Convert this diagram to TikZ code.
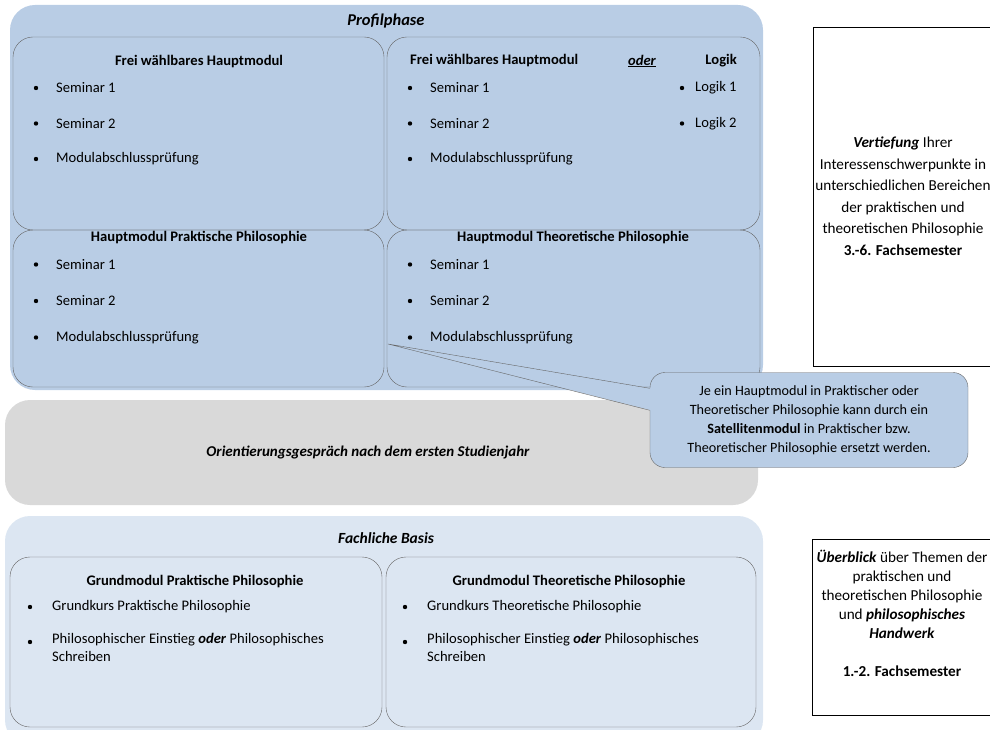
\documentclass[tikz,border=0pt]{standalone}
\usepackage{fontspec}
\setmainfont{Carlito}
\usetikzlibrary{calc}
\definecolor{profilblau}{HTML}{B9CDE5}
\definecolor{basisblau}{HTML}{DCE6F2}
\definecolor{orientgrau}{HTML}{D9D9D9}

\begin{document}
\begin{tikzpicture}[x=1pt, y=-1pt,
	phase/.style={rounded corners=25pt},
	modul/.style={draw=black!60, line width=0.4pt, rounded corners=20pt},
	titel/.style={font=\fontsize{15.5}{18}\selectfont\bfseries\itshape},
	kopf/.style={font=\fontsize{14.6}{17}\selectfont\bfseries},
	eintrag/.style={anchor=west, inner sep=0pt, font=\fontsize{14.6}{17}\selectfont},
	info/.style={align=center, inner sep=0pt}]
	\useasboundingbox (0, 0) rectangle (990, 730);

	% Profilphase
	\fill[profilblau, phase] (10, 5) rectangle (763, 390);
	\node[titel, font=\fontsize{16.5}{18}\selectfont\bfseries\itshape] (profil) at (386, 21) {Profilphase};
	\draw[modul] (13, 37) rectangle (384, 230);
	\draw[modul] (387, 37) rectangle (760, 230);
	\draw[modul] (13, 230) rectangle (384, 387);
	\draw[modul] (387, 230) rectangle (760, 387);

	\node[kopf] (fwa) at (199, 62) {Frei wählbares Hauptmodul};
	\node[kopf, anchor=west, inner sep=0pt] (fwb) at (410, 61) {Frei wählbares Hauptmodul};
	\node[kopf] (oder) at (642, 61) {\itshape\underline{oder}};
	\node[kopf, anchor=east, inner sep=0pt] (logik) at (737, 61) {Logik};
	\node[kopf] (hpp) at (199, 238) {Hauptmodul Praktische Philosophie};
	\node[kopf] (htp) at (573, 238) {Hauptmodul Theoretische Philosophie};

	\foreach \t [count=\i] in {Seminar 1, Seminar 2, Modulabschlussprüfung}{
		\fill (36, 52.5+35.5*\i) circle (2.2);
		\node[eintrag] (fwa\i) at (56, 52.5+35.5*\i) {\t};
		\fill (410, 52.5+35.5*\i) circle (2.2);
		\node[eintrag] (fwb\i) at (430, 52.5+35.5*\i) {\t};
		\fill (36, 228+36.5*\i) circle (2.2);
		\node[eintrag] (hpp\i) at (56, 228+36.5*\i) {\t};
		\fill (410, 228+36.5*\i) circle (2.2);
		\node[eintrag] (htp\i) at (430, 228+36.5*\i) {\t};
	}
	\foreach \i in {1, 2}{
		\fill (682, 52.5+35.5*\i) circle (2.2);
		\node[eintrag] (logik\i) at (695, 52.5+35.5*\i) {Logik \i};
	}

	% Orientierung
	\fill[orientgrau, phase] (5, 400) rectangle (758, 505);
	\node[titel, font=\fontsize{15}{18}\selectfont\bfseries\itshape] (orient) at (368, 452) {Orientierungsgespräch nach dem ersten Studienjahr};

	% Fachliche Basis
	\fill[basisblau, phase] (5, 516) rectangle (763, 745);
	\node[titel] (basis) at (386, 538) {Fachliche Basis};
	\draw[modul] (10, 557) rectangle (382, 727);
	\draw[modul] (386, 557) rectangle (756, 727);
	\node[kopf] (gpp) at (195, 582) {Grundmodul Praktische Philosophie};
	\node[kopf] (gtp) at (569, 582) {Grundmodul Theoretische Philosophie};
	\fill (30, 607) circle (2.2);
	\node[eintrag] (gpp1) at (52, 607) {Grundkurs Praktische Philosophie};
	\fill (30, 642) circle (2.2);
	\node[eintrag, align=left, anchor=north west, font=\fontsize{14.6}{18.5}\selectfont] (gpp2) at (52, 633)
		{Philosophischer Einstieg \textbf{\textit{oder}} Philosophisches\\Schreiben};
	\fill (405, 607) circle (2.2);
	\node[eintrag] (gtp1) at (427, 607) {Grundkurs Theoretische Philosophie};
	\fill (405, 642) circle (2.2);
	\node[eintrag, align=left, anchor=north west, font=\fontsize{14.6}{18.5}\selectfont] (gtp2) at (427, 633)
		{Philosophischer Einstieg \textbf{\textit{oder}} Philosophisches\\Schreiben};

	% Hinweis
	\node[draw=black!60, line width=0.4pt, fill=profilblau, rounded corners=15pt,
		minimum width=318, minimum height=95, align=center,
		font=\fontsize{14.2}{19}\selectfont] (hinweis) at (809, 420)
		{Je ein Hauptmodul in Praktischer oder\\Theoretischer Philosophie kann durch ein\\
		\textbf{Satellitenmodul} in Praktischer bzw.\\Theoretischer Philosophie ersetzt werden.};
	\coordinate (spitze) at (388, 344);
	\fill[profilblau] ($(hinweis.north west)+(1, 16)$) -- (spitze) -- ($(hinweis.north west)+(1, 38)$) -- cycle;
	\draw[black!60, line width=0.4pt] ($(hinweis.north west)+(0, 16)$) -- (spitze) -- ($(hinweis.north west)+(0, 38)$);

	% Semester
	\draw[line width=1pt] (813, 28) rectangle (1000, 366);
	\node[info, font=\fontsize{15.2}{21.5}\selectfont] (vertiefung) at (903, 196)
		{\textbf{\textit{Vertiefung}} Ihrer\\Interessenschwerpunkte in\\unterschiedlichen Bereichen\\der praktischen und\\theoretischen Philosophie\\\textbf{3.-6. Fachsemester}};
	\draw[line width=1pt] (812, 539) rectangle (1000, 715);
	\node[info, font=\fontsize{15.2}{19}\selectfont] (ueberblick) at (902, 613)
		{\textbf{\textit{Überblick}} über Themen der\\praktischen und\\theoretischen Philosophie\\und \textbf{\textit{philosophisches}}\\\textbf{\textit{Handwerk}}\\[19pt]\textbf{1.-2. Fachsemester}};
\end{tikzpicture}
\end{document}
